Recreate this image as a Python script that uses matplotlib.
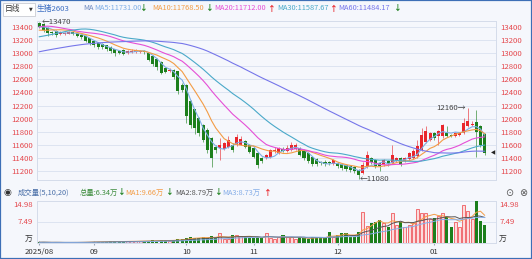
import numpy as np
import pandas as pd
import matplotlib
matplotlib.use('Agg')
import matplotlib.pyplot as plt
import matplotlib.transforms as mtransforms
from matplotlib.patches import Rectangle

plt.rcParams['font.family'] = ['Noto Sans CJK SC', 'DejaVu Sans']

# 生猪2603 日线 (visible window)
opens = [13465, 13440, 13390, 13320, 13335, 13295, 13300, 13300, 13318, 13310,
         13285, 13260, 13225, 13185, 13160, 13140, 13120, 13095, 13060, 13040,
         13045, 12995, 13020, 13025, 13020, 13040, 13000, 12960, 12910, 12870,
         12780, 12730, 12745, 12720, 12520, 12520, 12270, 12140, 12010, 11900,
         11830, 11700, 11570, 11550, 11540, 11565, 11600, 11600, 11600, 11665,
         11600, 11550, 11475, 11400, 11400, 11420, 11500, 11480, 11530, 11500,
         11520, 11540, 11550, 11500, 11475, 11420, 11380, 11330, 11340, 11335,
         11310, 11320, 11300, 11295, 11270, 11255, 11220, 11170, 11270, 11400,
         11370, 11320, 11300, 11350, 11320, 11350, 11400, 11345, 11380, 11400,
         11425, 11525, 11650, 11680, 11780, 11730, 11730, 11780, 11755, 11735,
         11755, 11780, 11885, 11905, 11950, 11885, 11765]
closes = [13395, 13355, 13310, 13310, 13285, 13315, 13312, 13322, 13300, 13265,
          13245, 13190, 13150, 13125, 13100, 13090, 13060, 13040, 13000, 13010,
          12990, 13040, 13040, 13045, 13040, 13020, 12900, 12830, 12790, 12700,
          12710, 12750, 12630, 12420, 12440, 12035, 11910, 11860, 11780, 11680,
          11520, 11400, 11520, 11600, 11625, 11670, 11520, 11720, 11690, 11570,
          11495, 11420, 11295, 11350, 11445, 11520, 11525, 11550, 11510, 11550,
          11600, 11602, 11450, 11400, 11350, 11300, 11300, 11315, 11300, 11320,
          11360, 11270, 11245, 11225, 11220, 11195, 11145, 11295, 11450, 11330,
          11270, 11270, 11370, 11300, 11450, 11400, 11307, 11400, 11475, 11505,
          11580, 11755, 11805, 11780, 11705, 11810, 11905, 11735, 11740, 11780,
          11780, 11935, 11960, 11920, 11790, 11600, 11475]
highs = [13470, 13455, 13400, 13345, 13350, 13335, 13330, 13340, 13330, 13320,
         13300, 13270, 13235, 13200, 13170, 13150, 13130, 13110, 13070, 13050,
         13060, 13055, 13070, 13060, 13055, 13050, 13010, 12970, 12920, 12880,
         12790, 12770, 12760, 12730, 12540, 12530, 12290, 12150, 12030, 11920,
         11850, 11720, 11590, 11705, 11650, 11730, 11620, 11760, 11740, 11680,
         11610, 11560, 11490, 11420, 11460, 11540, 11560, 11570, 11560, 11600,
         11640, 11620, 11560, 11510, 11490, 11430, 11400, 11350, 11360, 11350,
         11380, 11340, 11310, 11310, 11290, 11270, 11230, 11340, 11505, 11420,
         11390, 11340, 11390, 11370, 11600, 11420, 11420, 11420, 11490, 11530,
         11680, 11855, 11880, 11800, 11800, 11830, 11920, 11880, 11770, 11800,
         11800, 12010, 12160, 11960, 12135, 11900, 11780]
lows = [13380, 13330, 13260, 13270, 13250, 13275, 13285, 13290, 13280, 13240,
        13220, 13170, 13120, 13090, 13070, 13060, 13030, 13010, 12960, 12980,
        12970, 12980, 13000, 13010, 13000, 12990, 12880, 12800, 12740, 12680,
        12690, 12710, 12610, 12380, 12400, 11935, 11860, 11760, 11730, 11640,
        11480, 11265, 11480, 11370, 11520, 11550, 11490, 11580, 11590, 11550,
        11470, 11400, 11245, 11320, 11380, 11400, 11480, 11460, 11490, 11490,
        11500, 11520, 11430, 11370, 11320, 11280, 11270, 11290, 11270, 11290,
        11290, 11250, 11220, 11200, 11190, 11170, 11080, 11150, 11250, 11300,
        11240, 11195, 11280, 11280, 11300, 11330, 11280, 11330, 11360, 11380,
        11400, 11500, 11620, 11660, 11680, 11600, 11700, 11720, 11720, 11720,
        11740, 11760, 11870, 11890, 11420, 11560, 11445]
# 成交量 (万手)
volumes = [0.35, 0.4, 0.3, 0.25, 0.35, 0.3, 0.25, 0.3, 0.3, 0.35,
           0.4, 0.45, 0.5, 0.55, 0.6, 0.5, 0.6, 0.65, 0.7, 0.6,
           0.6, 0.75, 0.8, 0.7, 0.8, 0.7, 0.9, 1.0, 0.95, 1.1,
           1.0, 0.9, 1.2, 1.6, 1.4, 2.0, 2.1, 1.8, 2.0, 2.2,
           1.9, 2.4, 2.0, 3.5, 1.6, 1.5, 2.9, 2.9, 2.6, 2.1,
           1.9, 2.0, 2.2, 1.7, 3.75, 1.76, 1.4, 2.1, 2.9, 2.1,
           2.1, 1.4, 2.3, 1.8, 1.4, 2.1, 2.1, 2.3, 1.8, 4.1,
           2.3, 2.9, 3.5, 3.75, 2.1, 2.3, 4.1, 11.1, 6.1, 7.0,
           7.6, 8.2, 7.0, 5.9, 10.8, 6.4, 7.6, 5.9, 6.4, 7.0,
           12.0, 10.8, 10.8, 8.4, 9.0, 9.6, 10.5, 9.1, 5.6, 7.6,
           5.9, 13.5, 11.5, 8.6, 14.98, 7.9, 6.34]
# closes before the window, only used to start the moving averages
pre_closes = [12560, 12580, 12620, 12600, 12650, 12680, 12660, 12700, 12720, 12700,
              12740, 12760, 12780, 12750, 12800, 12820, 12790, 12840, 12860, 12850,
              12880, 12900, 12880, 12920, 12940, 12910, 12950, 12970, 12960, 13000,
              13010, 12960, 12920, 12900, 12880, 12900, 12940, 12960, 12990, 13040,
              13150, 13280, 13400, 13480, 13520, 13560, 13540, 13500, 13620, 13450,
              13380, 13300, 13250, 13280, 13305, 13350, 13380, 13420, 13455]

month_pos = [0, 13, 35, 51, 71, 94]
month_labels = ['2025/08', '09', '10', '11', '12', '01']
price_ticks = [11200, 11400, 11600, 11800, 12000, 12200, 12400, 12600, 12800, 13000, 13200, 13400]
ma_periods = [5, 10, 20, 30, 60]
ma_colors = ['#7eaee6', '#f39c45', '#e54fd6', '#4aa9c9', '#7676ea']
# values shown in the header line
ma_header = [11731.00, 11768.50, 11712.00, 11587.67, 11484.17]
ma_header_up = [False, False, True, True, False]
vol_periods = [5, 10, 20]
vol_colors = ['#f39c45', '#555555', '#86aee8']
vol_total = 6.34
vol_header = [9.66, 8.79, 8.73]
vol_header_up = [False, False, True]

RED = '#e9262c'
GREEN = '#1c7f1c'
BG = '#f5f7fc'
W, H = 532, 259

O = np.array(opens, float)
C = np.array(closes, float)
Hi = np.array(highs, float)
Lo = np.array(lows, float)
V = np.array(volumes, float)
n = len(C)
x = np.arange(n)
up = C >= O
col = np.where(up, RED, GREEN)

fig = plt.figure(figsize=(W / 100, H / 100), dpi=100)
fig.patch.set_facecolor(BG)

def box(l, t, r, b):
    return [l / W, 1 - b / H, (r - l) / W, (b - t) / H]

ax = fig.add_axes(box(37, 20.7, 496, 180))
axv = fig.add_axes(box(37, 200.7, 496, 243.3))

# --- price panel ---
ax.set_facecolor(BG)
ax.vlines(x, Lo, Hi, color=col, lw=0.6, alpha=0.7, zorder=2)
body = np.maximum(np.abs(C - O), 8)
ax.bar(x, body, bottom=np.minimum(O, C), width=0.72, color=col, lw=0, zorder=3)

full = pd.Series(pre_closes + closes, dtype=float)
for p, c in zip(ma_periods, ma_colors):
    ma = full.rolling(p).mean().iloc[len(pre_closes):].values
    ax.plot(x, ma, color=c, lw=0.8, zorder=4)

ax.set_xlim(-0.55, 108.7)
ax.set_ylim(11062, 13496)
ax.set_yticks(price_ticks)
ax.set_xticks([])
ax.tick_params(axis='y', length=0, labelsize=5.6, labelcolor='#e5484d',
               labelleft=True, labelright=True, pad=3)
ax.grid(axis='y', color='#dde4f1', lw=0.7)
ax.set_axisbelow(True)
for s in ax.spines.values():
    s.set_color('#d5dcea')
    s.set_linewidth(0.7)

hi_i = int(np.argmax(Hi))
lo_i = int(np.argmin(Lo))
hi2_i = lo_i + int(np.argmax(Hi[lo_i:]))
ax.text(hi_i + 0.6, Hi[hi_i], '←%d' % Hi[hi_i], fontsize=5.6, color='#444444', va='center', ha='left', zorder=6)
ax.text(hi2_i - 0.4, Hi[hi2_i], '%d→' % Hi[hi2_i], fontsize=5.6, color='#444444', va='center', ha='right', zorder=6)
ax.text(lo_i + 0.2, Lo[lo_i], '←%d' % Lo[lo_i], fontsize=5.6, color='#444444', va='center', ha='left', zorder=6)
trans = mtransforms.blended_transform_factory(ax.transAxes, ax.transData)
ax.text(0.998, C[-1], '◀', transform=trans, fontsize=4, color='#222222', va='center', ha='right',
        family=['DejaVu Sans'])

# --- volume panel ---
axv.set_facecolor(BG)
axv.bar(x[up], V[up], width=0.72, facecolor='#fbdcdc', edgecolor='#ef5a5e', lw=0.6, zorder=3)
axv.bar(x[~up], V[~up], width=0.72, color=GREEN, lw=0, zorder=3)
vs = pd.Series(V)
for p, c in zip(vol_periods, vol_colors):
    axv.plot(x, vs.rolling(p, min_periods=1).mean().values, color=c, lw=0.7, zorder=4)
vmax = V.max()
axv.set_xlim(-0.55, 108.7)
axv.set_ylim(0, vmax)
axv.set_yticks([])
axv.axhline(vmax / 2, color='#dde4f1', lw=0.7, zorder=1)
axv.set_xticks(month_pos, month_labels)
axv.tick_params(axis='x', length=3, direction='inout', color='#9aa6b8', labelsize=5.6,
                labelcolor='#333333', pad=2)
for s in axv.spines.values():
    s.set_color('#d5dcea')
    s.set_linewidth(0.7)
tl = mtransforms.blended_transform_factory(axv.transAxes, axv.transData)
for xx, ha in [(-0.01, 'right'), (1.007, 'left')]:
    axv.text(xx, vmax, '%.2f' % vmax, transform=tl, fontsize=5.6, color='#e5484d', ha=ha, va='top')
    axv.text(xx, vmax / 2, '%.2f' % (vmax / 2), transform=tl, fontsize=5.6, color='#e5484d', ha=ha, va='center')
    axv.text(xx, vmax * 0.02, '万', transform=tl, fontsize=5.6, color='#333333', ha=ha, va='bottom')

# --- header texts ---
def ftxt(px, py, s, color, size=5.3, **kw):
    fig.text(px / W, 1 - py / H, s, color=color, fontsize=size, va='center', ha='left', **kw)

def arrow(px, py, is_up):
    ftxt(px, py, '↑' if is_up else '↓', RED if is_up else GREEN, size=5.6, weight='bold')

fig.patches.append(Rectangle((3 / W, 1 - 15.5 / H), 32 / W, 12.5 / H, transform=fig.transFigure,
                             fc='white', ec='#c9ccd3', lw=0.6))
ftxt(5, 9, '日线', '#333333', size=5.6)
ftxt(29, 9, '▼', '#333333', size=3.5, family=['DejaVu Sans'])
ftxt(37, 8.5, '生猪2603', '#3d6fc2', size=5.6)
ftxt(83, 8.5, 'MA', '#6f8bc0')
ma_x = [94, 152, 214, 277, 338]
ma_arrow_x = [140, 206, 268, 330, 394]
for p, c, xx, ax_, v, u in zip(ma_periods, ma_colors, ma_x, ma_arrow_x, ma_header, ma_header_up):
    ftxt(xx, 8.5, 'MA%d:%.2f' % (p, v), c)
    arrow(ax_, 8.5, u)

ftxt(4, 192.7, '◉', '#333333', size=6.5, family=['DejaVu Sans'])
ftxt(18, 192.7, '成交量(5,10,20)', '#4a6fa8')
ftxt(80, 192.7, '总量:%.2f万' % vol_total, '#3c8c3c')
arrow(118, 192.7, False)
vx = [125, 175, 222]
v_arrow_x = [166, 215, 264]
for i, (c, xx, ax_, v, u) in enumerate(zip(vol_colors, vx, v_arrow_x, vol_header, vol_header_up)):
    ftxt(xx, 192.7, 'MA%d:%.2f万' % (i + 1, v), c)
    arrow(ax_, 192.7, u)
ftxt(505, 192.7, '⊙', '#555555', size=7, family=['DejaVu Sans'])
ftxt(519, 192.7, '⊗', '#555555', size=7, family=['DejaVu Sans'])

fig.patches.append(Rectangle((0, 0), 1, 1, transform=fig.transFigure, fill=False,
                             ec='#3d6fb6', lw=1.6))

fig.savefig('out.png', dpi=100, facecolor=fig.get_facecolor())
